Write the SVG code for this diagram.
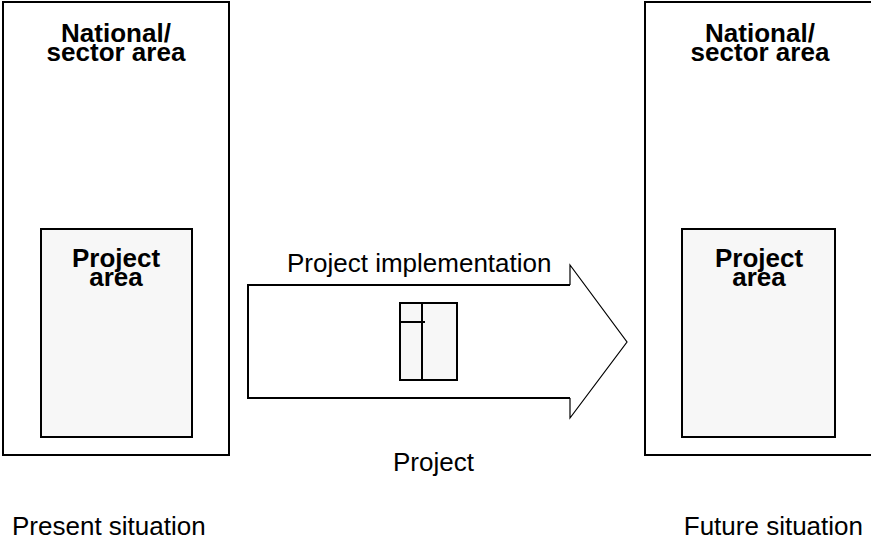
<svg xmlns="http://www.w3.org/2000/svg" width="871" height="541" viewBox="0 0 871 541">
  <style>
    .area { fill: #ffffff; stroke: #000000; stroke-width: 2; }
    .proj { fill: #f7f7f7; stroke: #000000; stroke-width: 2; }
    .bold { font-family: "Liberation Sans", Arial, sans-serif; font-weight: bold; font-size: 26px; fill: #000000; text-anchor: middle; }
    .label { font-family: "Liberation Sans", Arial, sans-serif; font-size: 26px; fill: #000000; }
    .body { fill: none; stroke: #000000; stroke-width: 2; }
    .head { fill: none; stroke: #000000; stroke-width: 1.2; }
  </style>
  <rect width="871" height="541" fill="#ffffff"/>

  <!-- present situation -->
  <g id="present-national">
    <rect class="area" x="3" y="2" width="226" height="453"/>
    <text class="bold" x="116" y="42">National/</text>
    <text class="bold" x="116" y="61">sector area</text>
  </g>
  <g id="present-project">
    <rect class="proj" x="41" y="229" width="151" height="208"/>
    <text class="bold" x="116" y="267">Project</text>
    <text class="bold" x="116" y="286">area</text>
  </g>

  <!-- future situation -->
  <g id="future-national">
    <rect class="area" x="645" y="2" width="228" height="453"/>
    <text class="bold" x="760" y="42">National/</text>
    <text class="bold" x="760" y="61">sector area</text>
  </g>
  <g id="future-project">
    <rect class="proj" x="682" y="229" width="153" height="208"/>
    <text class="bold" x="759" y="267">Project</text>
    <text class="bold" x="759" y="286">area</text>
  </g>

  <!-- implementation arrow -->
  <g id="connectors">
    <path d="M570,285 L627,342 L570,398 Z" fill="#ffffff" stroke="none"/>
    <path class="body" d="M570,285 H248 V398 H570"/>
    <path class="head" d="M570,285 V265 L627,342 L570,418 V398"/>
    <text class="label" x="287" y="272">Project implementation</text>
  </g>

  <!-- project symbol inside the arrow -->
  <g id="project">
    <rect class="proj" x="400" y="303" width="57" height="77"/>
    <line x1="422" y1="303" x2="422" y2="380" stroke="#000000" stroke-width="2"/>
    <line x1="400" y1="322" x2="425" y2="322" stroke="#000000" stroke-width="2"/>
    <text class="label" x="393" y="471">Project</text>
  </g>

  <text class="label" x="12" y="535">Present situation</text>
  <text class="label" x="863" y="535" text-anchor="end">Future situation</text>
</svg>
